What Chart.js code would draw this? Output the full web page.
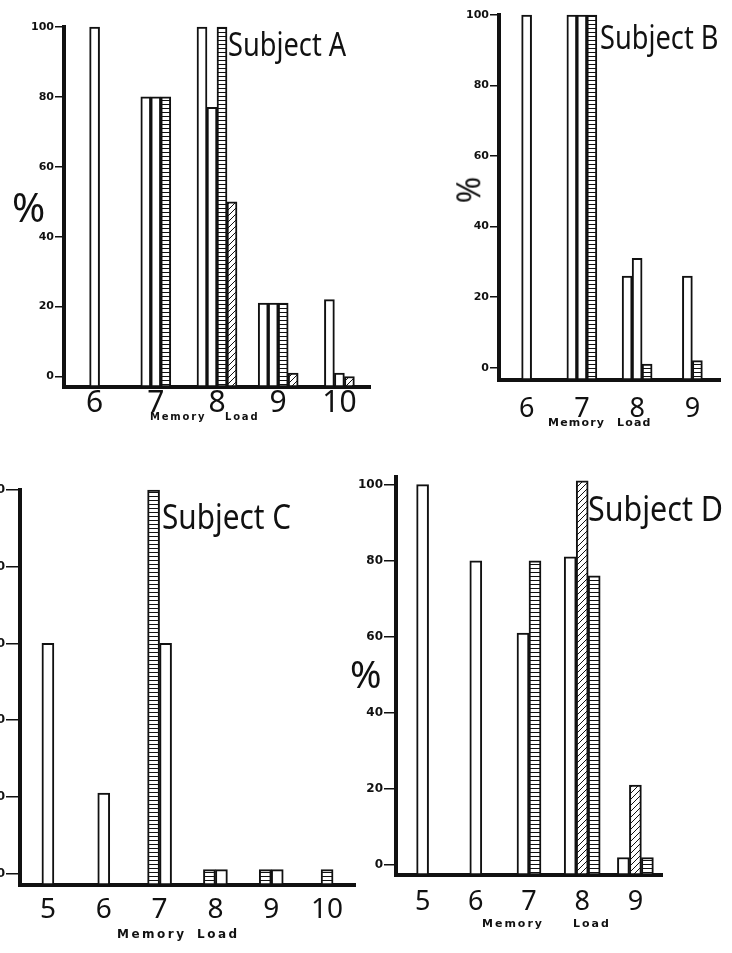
<!DOCTYPE html>
<html>
<head>
<meta charset="utf-8">
<script src="https://cdn.jsdelivr.net/npm/chart.js@4.4.0/dist/chart.umd.min.js"></script>
<style>
  html, body { margin: 0; padding: 0; background: #fff; }
  #page { position: relative; width: 732px; height: 953px; overflow: hidden; background: #fff; }
  #page canvas { position: absolute; }
  .title { position: absolute; font-family: "Noto Sans", sans-serif; line-height: 1; color: #111;
           transform-origin: left top; white-space: nowrap; }
  .word { position: absolute; font-family: "DejaVu Sans", sans-serif; font-weight: bold; line-height: 1;
          color: #111; white-space: nowrap; }
  .pct { position: absolute; font-family: "Noto Sans", sans-serif; line-height: 1; color: #111; }
</style>
</head>
<body>
<div id="page">
  <canvas id="chartA" width="380" height="430" style="left:0;top:0"></canvas>
  <canvas id="chartB" width="352" height="440" style="left:380px;top:0"></canvas>
  <canvas id="chartC" width="430" height="493" style="left:-60px;top:460px"></canvas>
  <canvas id="chartD" width="392" height="493" style="left:340px;top:460px"></canvas>

  <div class="title" style="left:228px;top:28px;font-size:32px;transform:scaleX(0.85)">Subject A</div>
  <div class="title" style="left:600px;top:21px;font-size:32px;transform:scaleX(0.85)">Subject B</div>
  <div class="title" style="left:162px;top:498px;font-size:35px;transform:scaleX(0.85)">Subject C</div>
  <div class="title" style="left:588px;top:490px;font-size:35px;transform:scaleX(0.87)">Subject D</div>

  <div class="pct" style="left:12px;top:187px;font-size:40px">%</div>
  <div class="pct" style="left:455px;top:174px;font-size:32px;transform:rotate(90deg)">%</div>
  <div class="pct" style="left:350px;top:654px;font-size:38px">%</div>

  <div class="word" style="left:150px;top:412px;font-size:10px;letter-spacing:1.8px">Memory</div>
  <div class="word" style="left:225px;top:412px;font-size:10px;letter-spacing:1.8px">Load</div>
  <div class="word" style="left:548px;top:417px;font-size:11px;letter-spacing:1.2px">Memory</div>
  <div class="word" style="left:617px;top:417px;font-size:11px;letter-spacing:1.2px">Load</div>
  <div class="word" style="left:117px;top:928px;font-size:12px;letter-spacing:2.5px">Memory</div>
  <div class="word" style="left:197px;top:928px;font-size:12px;letter-spacing:2.5px">Load</div>
  <div class="word" style="left:482px;top:918px;font-size:11px;letter-spacing:2px">Memory</div>
  <div class="word" style="left:573px;top:918px;font-size:11px;letter-spacing:2px">Load</div>
</div>

<script>
// Subject A
const loadsA = ['6', '7', '8', '9', '10'];
const openA1 = [100, 80, 100, 21, 22];
const openA2 = [null, 80, 77, 21, 1];
const stripedA = [null, 80, 100, 21, null];
const hatchedA = [null, null, 50, 1, 0];

// Subject B
const loadsB = ['6', '7', '8', '9'];
const openB1 = [100, 100, 26, 26];
const openB2 = [null, 100, 31, null];
const stripedB = [null, 100, 1, 2];

// Subject C
const loadsC = ['5', '6', '7', '8', '9', '10'];
const stripedC = [null, null, 100, 1, 1, 1];
const openC = [60, 21, 60, 1, 1, null];

// Subject D
const loadsD = ['5', '6', '7', '8', '9'];
const openD = [100, 80, 61, 81, 2];
const hatchedD = [null, null, null, 101, 21];
const stripedD = [null, null, 80, 76, 2];

const yTicks = [0, 20, 40, 60, 80, 100];

function makePattern(kind) {
  const c = document.createElement('canvas');
  const g = c.getContext('2d');
  if (kind === 'stripe') {
    c.width = 4; c.height = 4;
    g.fillStyle = '#fff'; g.fillRect(0, 0, 4, 4);
    g.fillStyle = '#111'; g.fillRect(0, 0, 4, 1);
  } else {
    c.width = 6; c.height = 6;
    g.fillStyle = '#fff'; g.fillRect(0, 0, 6, 6);
    g.strokeStyle = '#111'; g.lineWidth = 1;
    g.beginPath();
    g.moveTo(0, 6); g.lineTo(6, 0);
    g.moveTo(-1, 1); g.lineTo(1, -1);
    g.moveTo(5, 7); g.lineTo(7, 5);
    g.stroke();
  }
  return g.createPattern(c, 'repeat');
}

const OPEN = '#fff';
const STRIPE = makePattern('stripe');
const HATCH = makePattern('hatch');

function makePanel(canvasId, labels, series, lay) {
  new Chart(document.getElementById(canvasId), {
    type: 'bar',
    data: {
      labels: labels,
      datasets: series.map(s => ({
        data: s.data,
        backgroundColor: s.fill,
        borderColor: '#111',
        borderWidth: 2,
        borderSkipped: false,
        base: lay.min,
        barThickness: lay.bar,
        skipNull: true,
        clip: false
      }))
    },
    options: {
      responsive: false,
      animation: false,
      layout: { padding: { top: lay.top, right: lay.right, left: 0, bottom: 0 } },
      plugins: { legend: { display: false }, tooltip: { enabled: false } },
      scales: {
        x: {
          grid: { display: false, drawTicks: false },
          border: { display: true, color: '#111', width: 4 },
          ticks: { color: '#111', padding: lay.xPad, font: { family: 'Noto Sans', size: lay.xFont } },
          afterFit: (axis) => { axis.height = lay.xAxisHeight; }
        },
        y: {
          min: lay.min,
          max: lay.max,
          afterBuildTicks: (axis) => { axis.ticks = yTicks.map(v => ({ value: v })); },
          grid: { drawOnChartArea: false, drawTicks: true, tickLength: lay.tick, color: '#111', lineWidth: 1.5 },
          border: { display: true, color: '#111', width: 4 },
          ticks: { color: '#111', padding: 1, font: { family: 'DejaVu Sans', size: lay.yFont, weight: 'bold' } },
          afterFit: (axis) => { axis.width = lay.yAxisWidth; }
        }
      }
    }
  });
}

makePanel('chartA', loadsA, [
  { data: openA1, fill: OPEN },
  { data: openA2, fill: OPEN },
  { data: stripedA, fill: STRIPE },
  { data: hatchedA, fill: HATCH }
], { yAxisWidth: 64, xAxisHeight: 43, top: 27, right: 10, min: -3, max: 100, bar: 10, tick: 9, xPad: -2, xFont: 30, yFont: 11 });

makePanel('chartB', loadsB, [
  { data: openB1, fill: OPEN },
  { data: openB2, fill: OPEN },
  { data: stripedB, fill: STRIPE }
], { yAxisWidth: 119, xAxisHeight: 60, top: 15, right: 12, min: -3.5, max: 100, bar: 10, tick: 9, xPad: 13, xFont: 27, yFont: 11 });

makePanel('chartC', loadsC, [
  { data: stripedC, fill: STRIPE },
  { data: openC, fill: OPEN }
], { yAxisWidth: 80, xAxisHeight: 68, top: 30, right: 15, min: -3, max: 100, bar: 12, tick: 14, xPad: 8, xFont: 28, yFont: 12 });

makePanel('chartD', loadsD, [
  { data: openD, fill: OPEN },
  { data: hatchedD, fill: HATCH },
  { data: stripedD, fill: STRIPE }
], { yAxisWidth: 56, xAxisHeight: 78, top: 17, right: 70, min: -2.6, max: 102, bar: 12, tick: 12, xPad: 11, xFont: 27, yFont: 12 });
</script>
</body>
</html>
